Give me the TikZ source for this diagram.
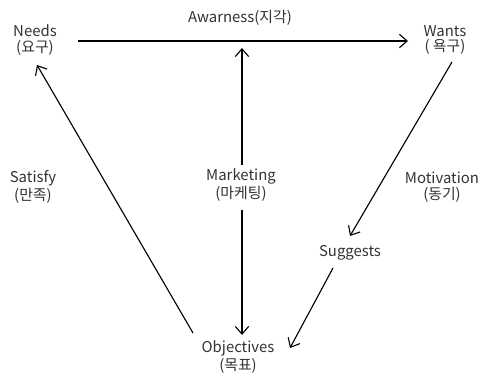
\documentclass[tikz,border=0pt]{standalone}
\usepackage{fontspec}
\setmainfont{Noto Sans CJK KR}
\usepackage{xcolor}
\usetikzlibrary{arrows.meta}

\definecolor{txtgray}{HTML}{333333}

\tikzset{
  lbl/.style={align=center, inner sep=0pt, text=txtgray, font=\fontsize{10.6}{11}\selectfont},
  arr/.style={-{Straight Barb[length=5.5pt,width=9.5pt]}, line width=0.8pt, black}
}

\begin{document}
\begin{tikzpicture}[x=0.025cm, y=0.025cm]
			\useasboundingbox (0,0) rectangle (479,374);
			
			% the four corners
			\node[lbl] (needs) at (35,334) {Needs\\(요구)};
			\node[lbl] (aware) at (240,356) {Awarness(지각)};
			\node[lbl] (wants) at (445,334) {Wants\\( 욕구)};
			\node[lbl] (obj) at (238,17) {Objectives\\(목표)};
			
			% labels along the sides
			\node[lbl] (sat) at (33,187) {Satisfy\\(만족)};
			\node[lbl] (mkt) at (241,189) {Marketing\\(마케팅)};
			\node[lbl] (mot) at (442,187) {Motivation\\(동기)};
			\node[lbl] (sug) at (350,121) {Suggests};
			
			\draw[arr] ([shift={(43,-1)}]needs.center) -- ([shift={(-37,-1)}]wants.center);
			
			\draw[arr] ([shift={(1,20)}]mkt.center) -- ([shift={(2,-30)}]aware.center);
			\draw[arr] ([shift={(1,-25)}]mkt.center) -- ([shift={(4,22)}]obj.center);
			
			\draw[arr] ([shift={(-45,24)}]obj.center) -- ([shift={(2,-25)}]needs.center);
			\draw[arr] ([shift={(7,-22)}]wants.center) -- ([shift={(0,17)}]sug.center);
			\draw[arr] ([shift={(-17,-15)}]sug.center) -- ([shift={(52,9)}]obj.center);
		\end{tikzpicture}
\end{document}
